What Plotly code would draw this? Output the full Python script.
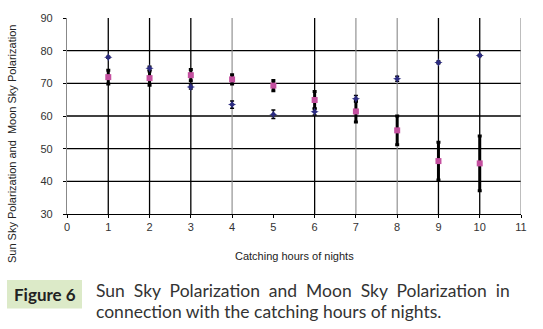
import plotly.graph_objects as go

# ---- data ----
hours = [1, 2, 3, 4, 5, 6, 7, 8, 9, 10]
moon_sky = [71.9, 71.6, 72.5, 71.2, 69.3, 64.9, 61.4, 55.6, 46.2, 45.5]
moon_err = [2.1, 2.2, 1.7, 1.4, 1.6, 2.6, 3.2, 4.4, 5.8, 8.4]
sun_sky = [78.0, 74.6, 68.9, 63.5, 60.5, 61.3, 65.3, 71.4, 76.4, 78.5]
sun_err = [0.3, 0.6, 0.6, 1.1, 1.3, 1.0, 1.0, 0.8, 0.4, 0.3]

x_ticks = list(range(0, 12))
y_ticks = [30, 40, 50, 60, 70, 80, 90]
h_grid = [40, 50, 60, 70, 80]
v_black = [1, 2, 3, 6, 9, 10]
v_gray = [4, 7, 8, 11]

W, H = 543, 329
L, R, T, B = 67, 22, 15, 115
PW, PH = W - L - R, H - T - B


def px(x):
    return (x - L) / PW


def py(y):
    return (H - B - y) / PH


FONT = "Liberation Sans, Arial, sans-serif"
CAP = "Lato, Open Sans, sans-serif"
NB = "\u00a0"

fig = go.Figure()

fig.add_trace(go.Scatter(
    x=hours, y=moon_sky, mode="markers",
    marker=dict(symbol="square", size=6, color="#C4509F"),
    error_y=dict(type="data", array=moon_err, color="black", thickness=3, width=2),
    showlegend=False,
))
fig.add_trace(go.Scatter(
    x=hours, y=sun_sky, mode="markers",
    marker=dict(symbol="star-diamond", size=6, color="#2B2B80"),
    error_y=dict(type="data", array=sun_err, color="black", thickness=1.5, width=2),
    showlegend=False,
))

shapes = []
for v in h_grid:
    shapes.append(dict(type="line", xref="x", yref="y", x0=0, x1=11, y0=v, y1=v,
                       line=dict(color="black", width=1.3), layer="below"))
for v in v_black:
    shapes.append(dict(type="line", xref="x", yref="y", x0=v, x1=v, y0=30, y1=90,
                       line=dict(color="black", width=1.3), layer="below"))
for v in v_gray:
    shapes.append(dict(type="line", xref="x", yref="y", x0=v, x1=v, y0=30, y1=90,
                       line=dict(color="#888888", width=1.1), layer="below"))
# caption box
shapes.append(dict(type="rect", xref="paper", yref="paper",
                   x0=px(7), x1=px(82), y0=py(310), y1=py(281),
                   fillcolor="#DCEAC8", line=dict(width=0), layer="below"))

line1 = (" " + NB).join("Sun Sky Polarization and Moon Sky Polarization in".split(" "))

annotations = [
    dict(text="Sun Sky Polarization and" + NB + NB + "Moon Sky Polarization",
         xref="paper", yref="paper", x=px(12), y=py(143), textangle=-90,
         showarrow=False, xanchor="center", yanchor="middle",
         font=dict(family=FONT, size=11, color="#222222")),
    dict(text="Catching hours of nights", xref="paper", yref="paper",
         x=px(294), y=py(257), showarrow=False, xanchor="center", yanchor="middle",
         font=dict(family=FONT, size=11, color="#222222")),
    dict(text="<b>Figure 6</b>", xref="paper", yref="paper",
         x=px(44.5), y=py(295.5), showarrow=False, xanchor="center", yanchor="middle",
         font=dict(family=CAP, size=17, color="#222222")),
    dict(text=line1,
         xref="paper", yref="paper", x=px(94), y=py(292), showarrow=False,
         xanchor="left", yanchor="middle",
         font=dict(family=CAP, size=17.5, color="#333333")),
    dict(text="connection with the catching hours of nights.",
         xref="paper", yref="paper", x=px(94), y=py(313), showarrow=False,
         xanchor="left", yanchor="middle",
         font=dict(family=CAP, size=17.5, color="#333333")),
]

fig.update_layout(
    width=W, height=H,
    margin=dict(l=L, r=R, t=T, b=B),
    paper_bgcolor="white", plot_bgcolor="white",
    shapes=shapes, annotations=annotations,
    font=dict(family=FONT, size=11, color="#333333"),
)
fig.update_xaxes(range=[0, 11], tickvals=x_ticks, showgrid=False, zeroline=False,
                 showline=True, linecolor="black", linewidth=1.3,
                 ticks="outside", ticklen=3, tickcolor="black",
                 tickfont=dict(family=FONT, size=11, color="#333333"))
fig.update_yaxes(range=[30, 90], tickvals=y_ticks, showgrid=False, zeroline=False,
                 showline=True, linecolor="#888888", linewidth=1.1,
                 ticks="outside", ticklen=3, tickcolor="black",
                 ticklabelstandoff=8,
                 tickfont=dict(family=FONT, size=11, color="#333333"))

fig.write_html("out.html")
